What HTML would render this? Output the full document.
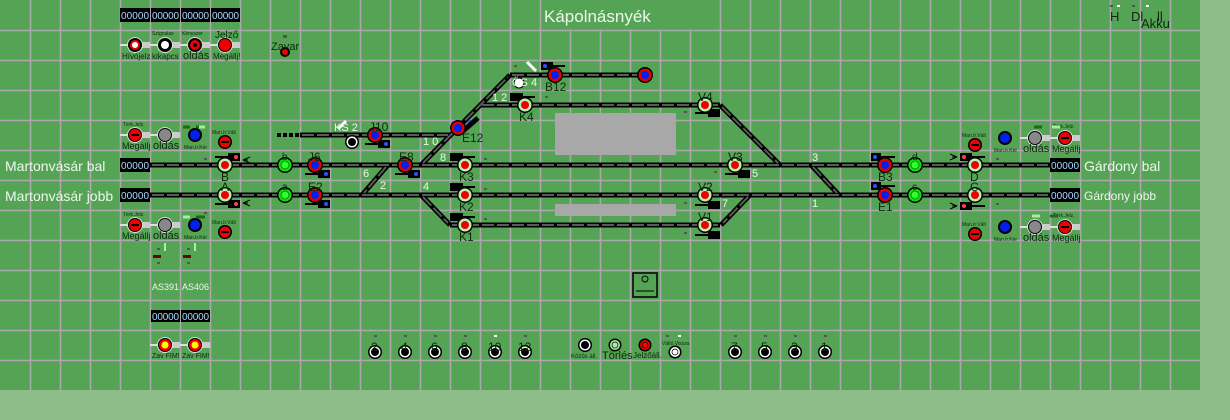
<!DOCTYPE html>
<html><head><meta charset="utf-8"><style>
html,body{margin:0;padding:0;background:#8fbd8a;}
svg{display:block;font-family:"Liberation Sans",sans-serif;}
.lbl{fill:#0c2a0c;}
.tiny{font-size:5px;fill:#0c2a0c;}
.wt{fill:#eef6ee;}
.num{font-size:10px;fill:#a8d8ff;}
</style></head><body>
<svg width="1230" height="420" viewBox="0 0 1230 420">
<defs>
<g id="sm"><circle r="8" fill="#000"/><circle r="6.5" fill="#e00000"/><circle r="4" fill="#0020ee"/></g>
<g id="sk"><circle r="8" fill="#000"/><circle r="6.5" fill="#b8f0b0"/><circle r="4" fill="#f00000"/></g>
<g id="sg"><circle r="8" fill="#000"/><circle r="6.5" fill="#10e010"/><circle r="4" fill="#30ff30" stroke="#0a8a0a"/></g>
<g id="bt"><circle r="7" fill="#000"/><circle r="5.5" fill="#fff"/><circle r="4" fill="#000"/></g>
<g id="ctl"><rect x="-15" y="-1" width="30" height="2" fill="#ddd"/><rect x="7" y="-3" width="8" height="6" fill="#ccc"/><circle r="8" fill="#ddd"/><circle r="7" fill="#000"/></g>
</defs>
<rect x="0" y="0" width="1200" height="390" fill="#55a455"/>
<g stroke="#aaa8aa" stroke-width="1.6">
<path d="M30.5 0V390M60.5 0V390M90.5 0V390M120.5 0V390M150.5 0V390M180.5 0V390M210.5 0V390M240.5 0V390M270.5 0V390M300.5 0V390M330.5 0V390M360.5 0V390M390.5 0V390M420.5 0V390M450.5 0V390M480.5 0V390M510.5 0V390M540.5 0V390M570.5 0V390M600.5 0V390M630.5 0V390M660.5 0V390M690.5 0V390M720.5 0V390M750.5 0V390M780.5 0V390M810.5 0V390M840.5 0V390M870.5 0V390M900.5 0V390M930.5 0V390M960.5 0V390M990.5 0V390M1020.5 0V390M1050.5 0V390M1080.5 0V390M1110.5 0V390M1140.5 0V390M1170.5 0V390"/>
<path d="M0 30.5H1200M0 60.5H1200M0 90.5H1200M0 120.5H1200M0 150.5H1200M0 180.5H1200M0 210.5H1200M0 240.5H1200M0 270.5H1200M0 300.5H1200M0 330.5H1200M0 360.5H1200"/>
</g>
<rect x="541.5" y="0" width="178" height="29.5" fill="#55a455"/>
<text x="544" y="22" font-size="17" class="wt">Kápolnásnyék</text>

<g>
<rect x="120" y="8" width="30" height="14" fill="#000"/><text x="121" y="19" class="num" textLength="28">00000</text>
<rect x="151" y="8" width="29" height="14" fill="#000"/><text x="152" y="19" class="num" textLength="27">00000</text>
<rect x="181" y="8" width="29" height="14" fill="#000"/><text x="182" y="19" class="num" textLength="27">00000</text>
<rect x="211" y="8" width="29" height="14" fill="#000"/><text x="212" y="19" class="num" textLength="27">00000</text>
<rect x="120" y="158" width="30" height="14" fill="#000"/><text x="121" y="169" class="num" textLength="28">00000</text>
<rect x="120" y="188" width="30" height="14" fill="#000"/><text x="121" y="199" class="num" textLength="28">00000</text>
<rect x="1050" y="158" width="30" height="14" fill="#000"/><text x="1051" y="169" class="num" textLength="28">00000</text>
<rect x="1050" y="188" width="30" height="14" fill="#000"/><text x="1051" y="199" class="num" textLength="28">00000</text>
<rect x="151" y="310" width="29" height="12" fill="#000"/><text x="152" y="320" class="num" textLength="27">00000</text>
<rect x="181" y="310" width="29" height="12" fill="#000"/><text x="182" y="320" class="num" textLength="27">00000</text>
</g>

<text x="5" y="171" font-size="14" class="wt">Martonvásár bal</text>
<text x="5" y="201" font-size="14" class="wt">Martonvásár jobb</text>
<text x="1084" y="171" font-size="14" class="wt">Gárdony bal</text>
<text x="1084" y="200" font-size="12" class="wt">Gárdony jobb</text>

<rect x="555" y="113" width="121" height="42" fill="#a8a8a8"/>
<rect x="555" y="204" width="121" height="12" fill="#a8a8a8"/>

<g stroke="#000" stroke-width="5" fill="none">
<path d="M150 165H1050M150 195H1050M300 135H450M480 105H720M510 75H650M450 225H720"/>
<path d="M421 165L510 75M720 105L780 165M421 195L450 225M388 165L362 195M811 165L839 195M750 195L721 225"/>
</g>
<g stroke="#5a5a5a" stroke-width="2" fill="none" stroke-dasharray="12 3">
<path d="M152 165H1048M152 195H1048M302 135H448M482 105H718M512 75H648M452 225H718"/>
<path d="M423 163L508 77M722 107L778 163M423 197L448 223M386 167L364 193M813 167L837 193M748 197L723 223"/>
</g>
<g fill="#000"><rect x="277" y="133" width="4" height="4"/><rect x="283" y="133" width="4" height="4"/><rect x="289" y="133" width="4" height="4"/><rect x="295" y="133" width="4" height="4"/></g>

<g>
<g fill="#000">
<rect x="365" y="143" width="15" height="2"/><rect x="378" y="140" width="12" height="8"/>
<rect x="305" y="173" width="15" height="2"/><rect x="318" y="170" width="12" height="8"/>
<rect x="305" y="203" width="15" height="2"/><rect x="318" y="200" width="12" height="8"/>
<rect x="395" y="173" width="15" height="2"/><rect x="408" y="170" width="12" height="8"/>
<rect x="450" y="153" width="13" height="8"/><rect x="462" y="156" width="13" height="2"/>
<rect x="450" y="183" width="13" height="8"/><rect x="462" y="186" width="13" height="2"/>
<rect x="450" y="213" width="13" height="8"/><rect x="462" y="216" width="13" height="2"/>
<rect x="510" y="93" width="13" height="8"/><rect x="523" y="96" width="12" height="2"/>
<rect x="541" y="62" width="12" height="8"/><rect x="553" y="65" width="12" height="2"/>
<rect x="695" y="112" width="13" height="2"/><rect x="708" y="109" width="12" height="8"/>
<rect x="725" y="173" width="13" height="2"/><rect x="738" y="170" width="12" height="8"/>
<rect x="695" y="204" width="13" height="2"/><rect x="708" y="201" width="12" height="8"/>
<rect x="695" y="234" width="13" height="2"/><rect x="708" y="231" width="12" height="8"/>
<rect x="215" y="156" width="13" height="2"/><rect x="228" y="153" width="12" height="8"/>
<rect x="215" y="203" width="13" height="2"/><rect x="228" y="200" width="12" height="8"/>
<rect x="960" y="153" width="12" height="8"/><rect x="972" y="156" width="13" height="2"/>
<rect x="960" y="202" width="12" height="8"/><rect x="972" y="205" width="13" height="2"/>
<rect x="871" y="153" width="10" height="8"/><rect x="880" y="156" width="15" height="2"/>
<rect x="871" y="182" width="10" height="8"/><rect x="880" y="185" width="15" height="2"/>
</g>
<g fill="#3050ff"><circle cx="386" cy="144" r="2"/><circle cx="326" cy="174" r="2"/><circle cx="326" cy="204" r="2"/><circle cx="416" cy="174" r="2"/><circle cx="545" cy="66" r="2"/><circle cx="875" cy="157" r="2"/><circle cx="875" cy="186" r="2"/><circle cx="470" cy="122" r="2"/></g>
<g fill="#ff4040"><circle cx="236" cy="157" r="2"/><circle cx="236" cy="204" r="2"/><circle cx="964" cy="157" r="2"/><circle cx="964" cy="206" r="2"/></g>
<path d="M463 131L478 118" stroke="#000" stroke-width="5"/>
<path d="M527 62L536 71" stroke="#fff" stroke-width="3"/>
<path d="M338 129L346 121" stroke="#fff" stroke-width="3"/>
<g stroke="#000" stroke-width="1" fill="none"><path d="M243 160L250 157M243 160L250 163M243 160H248M243 203L250 200M243 203L250 206M243 203H248M957 157L950 154M957 157L950 160M957 157H952M957 206L950 203M957 206L950 209M957 206H952"/></g>
</g>

<use href="#sm" x="375" y="135"/><use href="#sm" x="315" y="165"/><use href="#sm" x="315" y="195"/><use href="#sm" x="405" y="165"/>
<use href="#sm" x="458" y="128"/><use href="#sm" x="555" y="75"/><use href="#sm" x="885" y="165"/><use href="#sm" x="885" y="195"/>
<rect x="643" y="67" width="4" height="16" fill="#000"/><use href="#sm" x="645" y="75"/>
<use href="#sk" x="465" y="165"/><use href="#sk" x="465" y="195"/><use href="#sk" x="465" y="225"/><use href="#sk" x="525" y="105"/>
<use href="#sk" x="705" y="105"/><use href="#sk" x="735" y="165"/><use href="#sk" x="705" y="195"/><use href="#sk" x="705" y="225"/>
<use href="#sk" x="225" y="165"/><use href="#sk" x="225" y="195"/><use href="#sk" x="975" y="165"/><use href="#sk" x="975" y="195"/>
<use href="#sg" x="285" y="165"/><use href="#sg" x="285" y="195"/><use href="#sg" x="915" y="165"/><use href="#sg" x="915" y="195"/>
<use href="#bt" x="352" y="142"/>
<circle cx="519" cy="83" r="5" fill="#fff" stroke="#000"/>

<g class="lbl" font-size="12">
<text x="369" y="131">J10</text><text x="308" y="161">J6</text><text x="308" y="191">E2</text><text x="399" y="161">E8</text>
<text x="462" y="142">E12</text><text x="545" y="91">B12</text><text x="459" y="181">K3</text><text x="459" y="211">K2</text><text x="459" y="241">K1</text>
<text x="519" y="121">K4</text><text x="698" y="101">V4</text><text x="728" y="161">V3</text><text x="698" y="191">V2</text><text x="698" y="221">V1</text>
<text x="221" y="181">B</text><text x="221" y="191">A</text><text x="970" y="181">D</text><text x="970" y="191">C</text>
<text x="282" y="160" font-size="10">b</text><text x="282" y="190" font-size="10">a</text><text x="912" y="160" font-size="10">d</text><text x="912" y="190" font-size="10">c</text>
<text x="878" y="181">B3</text><text x="878" y="211">E1</text>
</g>
<g font-size="11" class="wt">
<text x="334" y="131">KS 2</text><text x="512" y="86">ÖS 4</text><text x="492" y="101">1 2</text><text x="423" y="145">1 0</text>
<text x="440" y="161">8</text><text x="363" y="177">6</text><text x="380" y="189">2</text><text x="423" y="190">4</text>
<text x="752" y="177">5</text><text x="722" y="207">7</text><text x="812" y="161">3</text><text x="812" y="207">1</text>
</g>

<g>
<use href="#ctl" x="135" y="45"/><circle cx="135" cy="45" r="4" fill="#fff" stroke="#e00" stroke-width="2"/>
<use href="#ctl" x="165" y="45"/><circle cx="165" cy="45" r="4" fill="#fff"/>
<use href="#ctl" x="195" y="45"/><circle cx="195" cy="45" r="5" fill="#e00"/><circle cx="195" cy="45" r="2" fill="#000"/>
<use href="#ctl" x="225" y="45"/><circle cx="225" cy="45" r="6" fill="#e00"/>
<g class="lbl" font-size="8"><text x="122" y="59">Hívójelz</text><text x="152" y="59">kikapcs</text><text x="183" y="59" font-size="11">oldás</text><text x="213" y="59">Megállj!</text><text x="215" y="38" font-size="10">Jelző</text></g>
<g class="tiny"><text x="152" y="35">Szignalas</text><text x="182" y="35">Kényszer</text></g>
<circle cx="285" cy="52" r="5" fill="#000"/><circle cx="285" cy="52" r="3" fill="#e00"/><text x="271" y="50" class="lbl" font-size="11">Zavar</text>
<rect x="283" y="35" width="4" height="3" fill="#555"/>

<g>
<use href="#ctl" x="135" y="135"/><circle cx="135" cy="135" r="6" fill="#e00"/><rect x="131" y="134" width="8" height="2" fill="#000"/>
<use href="#ctl" x="165" y="135"/><circle cx="165" cy="135" r="6" fill="#888"/>
<circle cx="195" cy="135" r="7" fill="#000"/><circle cx="195" cy="135" r="5" fill="#0020ee"/>
<circle cx="225" cy="142" r="7" fill="#000"/><circle cx="225" cy="142" r="5.5" fill="#e00"/><rect x="221" y="141" width="8" height="2" fill="#000"/>
<g class="lbl" font-size="9"><text x="122" y="149">Megállj</text><text x="153" y="149" font-size="11">oldás</text></g>
<g class="tiny"><text x="123" y="126">Térk.Jelz.</text><text x="184" y="149">Man.Ir.Kér</text><text x="212" y="134">Man.Ir.Vált</text></g>
<path d="M183 127H190M196 127H203" stroke="#1a6a1a" stroke-width="3"/><path d="M199 127H205" stroke="#a0f0a0" stroke-width="3"/>
</g>
<g transform="translate(0,90)">
<use href="#ctl" x="135" y="135"/><circle cx="135" cy="135" r="6" fill="#e00"/><rect x="131" y="134" width="8" height="2" fill="#000"/>
<use href="#ctl" x="165" y="135"/><circle cx="165" cy="135" r="6" fill="#888"/>
<circle cx="195" cy="135" r="7" fill="#000"/><circle cx="195" cy="135" r="5" fill="#0020ee"/>
<circle cx="225" cy="142" r="7" fill="#000"/><circle cx="225" cy="142" r="5.5" fill="#e00"/><rect x="221" y="141" width="8" height="2" fill="#000"/>
<g class="lbl" font-size="9"><text x="122" y="149">Megállj</text><text x="153" y="149" font-size="11">oldás</text></g>
<g class="tiny"><text x="123" y="126">Térk.Jelz.</text><text x="184" y="149">Man.Ir.Kér</text><text x="212" y="134">Man.Ir.Vált</text></g>
<path d="M183 127H190" stroke="#a0f0a0" stroke-width="3"/><path d="M196 127H205" stroke="#1a6a1a" stroke-width="3"/>
</g>
<g transform="translate(840,3)">
<use href="#ctl" x="225" y="135"/><circle cx="225" cy="135" r="6" fill="#e00"/><rect x="221" y="134" width="8" height="2" fill="#000"/>
<use href="#ctl" x="195" y="135"/><circle cx="195" cy="135" r="6" fill="#888"/>
<circle cx="165" cy="135" r="7" fill="#000"/><circle cx="165" cy="135" r="5" fill="#0020ee"/>
<circle cx="135" cy="142" r="7" fill="#000"/><circle cx="135" cy="142" r="5.5" fill="#e00"/><rect x="131" y="141" width="8" height="2" fill="#000"/>
<g class="lbl" font-size="9"><text x="212" y="149">Megállj</text><text x="183" y="149" font-size="11">oldás</text></g>
<g class="tiny"><text x="213" y="125">Térk.Jelz.</text><text x="154" y="149">Man.Ir.Kér</text><text x="122" y="134">Man.Ir.Vált</text></g>
</g>
<g transform="translate(840,92)">
<use href="#ctl" x="225" y="135"/><circle cx="225" cy="135" r="6" fill="#e00"/><rect x="221" y="134" width="8" height="2" fill="#000"/>
<use href="#ctl" x="195" y="135"/><circle cx="195" cy="135" r="6" fill="#888"/>
<circle cx="165" cy="135" r="7" fill="#000"/><circle cx="165" cy="135" r="5" fill="#0020ee"/>
<circle cx="135" cy="142" r="7" fill="#000"/><circle cx="135" cy="142" r="5.5" fill="#e00"/><rect x="131" y="141" width="8" height="2" fill="#000"/>
<g class="lbl" font-size="9"><text x="212" y="149">Megállj</text><text x="183" y="149" font-size="11">oldás</text></g>
<g class="tiny"><text x="213" y="125">Térk.Jelz.</text><text x="154" y="149">Man.Ir.Kér</text><text x="122" y="134">Man.Ir.Vált</text></g>
</g>
<path d="M1052 127H1060" stroke="#a0f0a0" stroke-width="3"/><path d="M1034 127H1042" stroke="#1a6a1a" stroke-width="3"/>
<path d="M1032 216H1040" stroke="#a0f0a0" stroke-width="3"/><path d="M1050 216H1058" stroke="#1a6a1a" stroke-width="3"/>
</g>

<rect x="153" y="255" width="8" height="3" fill="#6a0000"/><rect x="164" y="243" width="2" height="8" fill="#a8f0a8"/>
<rect x="183" y="255" width="8" height="3" fill="#6a0000"/><rect x="194" y="243" width="2" height="8" fill="#a8f0a8"/>
<text x="152" y="290" font-size="9" class="wt">AS391</text><text x="182" y="290" font-size="9" class="wt">AS406</text>
<use href="#ctl" x="165" y="345"/><circle cx="165" cy="345" r="6" fill="#e00"/><circle cx="165" cy="345" r="3.5" fill="#ff0"/>
<use href="#ctl" x="195" y="345"/><circle cx="195" cy="345" r="6" fill="#e00"/><circle cx="195" cy="345" r="3.5" fill="#ff0"/>
<g class="lbl" font-size="7"><text x="152" y="358">Zav FIM!</text><text x="182" y="358">Zav FIM!</text></g>

<g class="lbl" font-size="12">
<use href="#bt" x="375" y="352"/><use href="#bt" x="405" y="352"/><use href="#bt" x="435" y="352"/><use href="#bt" x="465" y="352"/><use href="#bt" x="495" y="352"/><use href="#bt" x="525" y="352"/>
<text x="371" y="351">2</text><text x="401" y="351">4</text><text x="431" y="351">6</text><text x="461" y="351">8</text><text x="488" y="351">10</text><text x="518" y="351">12</text>
<use href="#bt" x="735" y="352"/><use href="#bt" x="765" y="352"/><use href="#bt" x="795" y="352"/><use href="#bt" x="825" y="352"/>
<text x="731" y="351">7</text><text x="761" y="351">5</text><text x="791" y="351">3</text><text x="821" y="351">1</text>
</g>
<use href="#bt" x="585" y="345"/>
<circle cx="615" cy="345" r="6.5" fill="#000"/><circle cx="615" cy="345" r="5" fill="#a8f0a0"/><circle cx="615" cy="345" r="3" fill="#a8f0a0" stroke="#000" stroke-width="0.7"/>
<circle cx="645" cy="345" r="6.5" fill="#000"/><circle cx="645" cy="345" r="5" fill="#f00"/><circle cx="645" cy="345" r="3" fill="#f00" stroke="#000" stroke-width="0.7"/>
<circle cx="675" cy="352" r="6.5" fill="#000"/><circle cx="675" cy="352" r="5" fill="#fff"/><circle cx="675" cy="352" r="3" fill="#fff" stroke="#000" stroke-width="0.7"/>
<g class="lbl"><text x="571" y="358" font-size="6">Közös áll.</text><text x="602" y="359" font-size="11">Törlés</text><text x="633" y="358" font-size="8">Jelzőáll.</text><text x="662" y="345" font-size="5">Váltó Vissza</text></g>
<rect x="633" y="273" width="24" height="24" fill="none" stroke="#000" stroke-width="1.5"/><circle cx="645" cy="279" r="3" fill="none" stroke="#000"/><path d="M636 291H654" stroke="#000"/>

<g fill="#555">
<rect x="374" y="335" width="3" height="2"/><rect x="404" y="335" width="3" height="2"/><rect x="434" y="335" width="3" height="2"/><rect x="464" y="335" width="3" height="2"/><rect x="524" y="335" width="3" height="2"/>
<rect x="734" y="335" width="3" height="2"/><rect x="764" y="335" width="3" height="2"/><rect x="794" y="335" width="3" height="2"/><rect x="824" y="335" width="3" height="2"/>
<rect x="666" y="335" width="3" height="2"/><rect x="1110" y="5" width="3" height="2"/><rect x="1132" y="5" width="3" height="2"/>
<rect x="514" y="65" width="3" height="2"/><rect x="545" y="96" width="3" height="2"/><rect x="484" y="158" width="3" height="2"/><rect x="484" y="188" width="3" height="2"/><rect x="484" y="218" width="3" height="2"/>
<rect x="684" y="111" width="3" height="2"/><rect x="714" y="171" width="3" height="2"/><rect x="684" y="202" width="3" height="2"/><rect x="684" y="232" width="3" height="2"/>
<rect x="204" y="158" width="3" height="2"/><rect x="204" y="212" width="3" height="2"/><rect x="996" y="158" width="3" height="2"/><rect x="996" y="203" width="3" height="2"/>
<rect x="157" y="248" width="3" height="2"/><rect x="157" y="262" width="3" height="2"/><rect x="187" y="248" width="3" height="2"/><rect x="187" y="262" width="3" height="2"/>
</g>
<rect x="494" y="335" width="3" height="2" fill="#fff"/><rect x="678" y="335" width="3" height="2" fill="#fff"/><rect x="1117" y="5" width="3" height="2" fill="#fff"/><rect x="1146" y="5" width="3" height="2" fill="#fff"/>

<g class="lbl" font-size="13"><text x="1110" y="21">H</text><text x="1131" y="21">Dl</text><text x="1157" y="21">ll</text><text x="1141" y="28">Akku</text></g>
</svg>
</body></html>
